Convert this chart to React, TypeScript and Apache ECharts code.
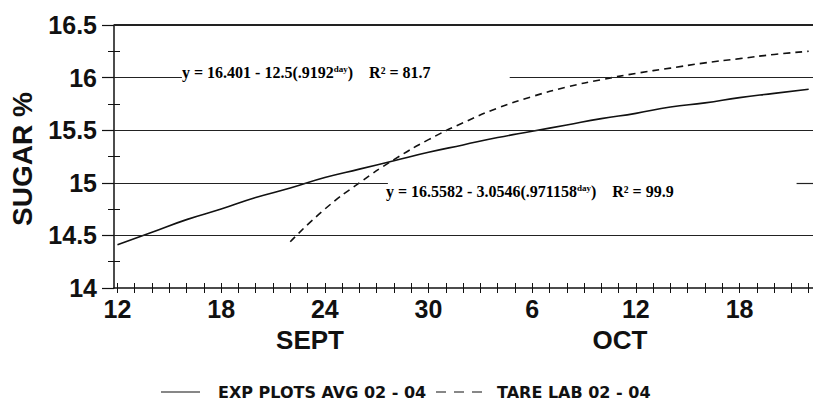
import React, { useEffect, useRef } from "react";
import * as echarts from "echarts";

// Day numbers counted from 1 September (Oct 6 = 36)
const expDays = [12, 14, 16, 18, 20, 22, 24, 26, 28, 30, 32, 34, 36, 38, 40, 42, 44, 46, 48, 50, 52];
const expPlots = [14.41, 14.53, 14.65, 14.75, 14.86, 14.95, 15.05, 15.13, 15.21, 15.29, 15.36, 15.43, 15.49, 15.55, 15.61, 15.66, 15.72, 15.76, 15.81, 15.85, 15.89];
const tareDays = [22, 24, 26, 28, 30, 32, 34, 36, 38, 40, 42, 44, 46, 48, 50, 52];
const tareLab = [14.44, 14.75, 15.0, 15.22, 15.41, 15.57, 15.71, 15.82, 15.91, 15.98, 16.04, 16.09, 16.14, 16.18, 16.22, 16.25];
const xLabelDays = [12, 18, 24, 30, 36, 42, 48];
const xTickDays = Array.from({ length: 41 }, (_, i) => 12 + i);
const yMinorTicks = [14.25, 14.75, 15.25, 15.75, 16.25];
const seriesNames = ["EXP PLOTS AVG 02 - 04", "TARE LAB 02 - 04"];
const eq1 = { pre: "y = 16.401 - 12.5(.9192", post: ")    R² = 81.7" };
const eq2 = { pre: "y = 16.5582 - 3.0546(.971158", post: ")    R² = 99.9" };

const X_MIN = 11.8;
const X_MAX = 52.25;
// horizontal reference lines [value, from, to]
const refLines: [number, number, number][] = [
  [16.5, X_MIN, X_MAX],
  [16, X_MIN, 15.73],
  [16, 34.7, X_MAX],
  [15.5, X_MIN, X_MAX],
  [15, X_MIN, 27.65],
  [15, 51.3, X_MAX],
  [14.5, X_MIN, X_MAX],
];

export default function App() {
  const ref = useRef<HTMLDivElement>(null);
  useEffect(() => {
    document.body.style.margin = "0";
    if (!ref.current) return;
    const chart = echarts.init(ref.current, null, { renderer: "svg" });
    const sans = "'Liberation Sans', Arial, sans-serif";
    const serif = "'Liberation Serif', 'Times New Roman', serif";
    const legendFont = "'DejaVu Sans', sans-serif";
    const eqRich = {
      a: { fontFamily: serif, fontWeight: "bold", fontSize: 16, color: "#111" },
      s: { fontFamily: serif, fontWeight: "bold", fontSize: 9, color: "#111", verticalAlign: "top" },
    };
    chart.setOption({
      animation: false,
      backgroundColor: "#fff",
      grid: { left: 114, right: 0, top: 25, bottom: 114, containLabel: false },
      xAxis: [
        {
          type: "value",
          min: X_MIN,
          max: X_MAX,
          splitLine: { show: false },
          axisLine: { lineStyle: { color: "#111", width: 1.5 } },
          axisTick: { show: true, length: 5, customValues: xTickDays, lineStyle: { color: "#111" } },
          axisLabel: {
            customValues: xLabelDays,
            margin: 8,
            fontFamily: sans,
            fontWeight: "bold",
            fontSize: 25,
            color: "#111",
            formatter: (v: number) => String(v > 30 ? v - 30 : v),
          },
        },
        {
          type: "value",
          min: X_MIN,
          max: X_MAX,
          position: "bottom",
          splitLine: { show: false },
          axisLine: { show: false },
          axisTick: { show: true, inside: true, length: 5, customValues: xTickDays, lineStyle: { color: "#111" } },
          axisLabel: { show: false },
        },
      ],
      yAxis: [
        {
          type: "value",
          min: 14,
          max: 16.5,
          interval: 0.5,
          splitLine: { show: false },
          axisLine: { show: true, lineStyle: { color: "#111", width: 1.5 } },
          axisTick: { show: true, length: 12, lineStyle: { color: "#111", width: 1.2 } },
          minorTick: { show: true, splitNumber: 2, length: 6, lineStyle: { color: "#111" } },
          axisLabel: {
            margin: 17,
            fontFamily: sans,
            fontWeight: "bold",
            fontSize: 25,
            color: "#111",
            formatter: (v: number) => String(v),
          },
        },
        {
          type: "value",
          min: 14,
          max: 16.5,
          position: "left",
          splitLine: { show: false },
          axisLine: { show: false },
          axisTick: { show: true, inside: true, length: 6, customValues: yMinorTicks, lineStyle: { color: "#111" } },
          axisLabel: { show: false },
        },
      ],
      series: [
        {
          name: seriesNames[0],
          type: "line",
          data: expDays.map((d, i) => [d, expPlots[i]]),
          showSymbol: false,
          symbol: "none",
          smooth: true,
          lineStyle: { color: "#111", width: 1.6, type: "solid" },
          itemStyle: { color: "#111" },
          markLine: {
            silent: true,
            symbol: ["none", "none"],
            label: { show: false },
            lineStyle: { color: "#222", width: 1.2, type: "solid" },
            data: refLines.map(([v, a, b]) => [
              { coord: [a, v], lineStyle: { width: v === 16.5 ? 2.2 : 1.2 } },
              { coord: [b, v] },
            ]),
          },
        },
        {
          name: seriesNames[1],
          type: "line",
          data: tareDays.map((d, i) => [d, tareLab[i]]),
          showSymbol: false,
          symbol: "none",
          smooth: true,
          lineStyle: { color: "#111", width: 1.6, type: [7, 5] },
          itemStyle: { color: "#111" },
        },
      ],
      graphic: [
        {
          type: "text",
          x: 22,
          y: 159,
          rotation: Math.PI / 2,
          style: {
            text: "SUGAR %",
            fontFamily: sans,
            fontWeight: "bold",
            fontSize: 28,
            fill: "#111",
            align: "center",
            verticalAlign: "middle",
          },
        },
        {
          type: "text",
          x: 310,
          y: 340,
          style: { text: "SEPT", fontFamily: sans, fontWeight: "bold", fontSize: 26, fill: "#111", align: "center", verticalAlign: "middle" },
        },
        {
          type: "text",
          x: 620,
          y: 340,
          style: { text: "OCT", fontFamily: sans, fontWeight: "bold", fontSize: 26, fill: "#111", align: "center", verticalAlign: "middle" },
        },
        {
          type: "text",
          x: 182,
          y: 72,
          style: {
            text: `{a|${eq1.pre}}{s|day}{a|${eq1.post}}`,
            rich: eqRich,
            verticalAlign: "middle",
          },
        },
        {
          type: "text",
          x: 386,
          y: 191,
          style: {
            text: `{a|${eq2.pre}}{s|day}{a|${eq2.post}}`,
            rich: eqRich,
            verticalAlign: "middle",
          },
        },
        // legend
        {
          type: "line",
          shape: { x1: 161, y1: 392, x2: 200, y2: 392 },
          style: { stroke: "#111", lineWidth: 1.2 },
        },
        {
          type: "text",
          x: 218,
          y: 392,
          style: { text: seriesNames[0], fontFamily: legendFont, fontWeight: "bold", fontSize: 16, fill: "#111", verticalAlign: "middle" },
        },
        {
          type: "line",
          shape: { x1: 436, y1: 392, x2: 482, y2: 392 },
          style: { stroke: "#111", lineWidth: 1.2, lineDash: [10, 8] },
        },
        {
          type: "text",
          x: 497,
          y: 392,
          style: { text: seriesNames[1], fontFamily: legendFont, fontWeight: "bold", fontSize: 16, fill: "#111", verticalAlign: "middle" },
        },
      ],
    });
    return () => chart.dispose();
  }, []);
  return <div ref={ref} style={{ width: 813, height: 402 }} />;
}
